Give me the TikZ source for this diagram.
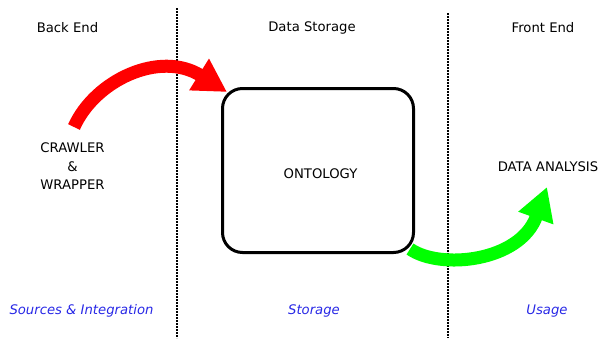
\documentclass[tikz,border=0pt]{standalone}
\usepackage{fontspec}
\setmainfont{DejaVu Sans}
\usetikzlibrary{arrows.meta}
\definecolor{capblue}{RGB}{40,40,230}
\definecolor{arrowred}{RGB}{255,0,0}
\definecolor{arrowgreen}{RGB}{0,255,0}
\begin{document}
\begin{tikzpicture}[x=1pt,y=-1pt,
  lbl/.style={font=\fontsize{13.2}{18.5}\selectfont, inner sep=0pt},
  captiontext/.style={lbl, text=capblue, font=\fontsize{13.2}{18.5}\selectfont\itshape},
  divider/.style={line width=2pt, dash pattern=on 1.8pt off 1.2pt},
  bigarrow/.style={line width=13pt, -{Triangle[length=33pt,width=35pt]}}]
\useasboundingbox (0,0) rectangle (603,338);
% column dividers
\coordinate (d1t) at (177,8);  \coordinate (d1b) at (177,338);
\coordinate (d2t) at (448,13); \coordinate (d2b) at (448,338);
\draw[divider] (d1t) -- (d1b);
\draw[divider] (d2t) -- (d2b);
% column headings
\node[lbl] (h1) at (67.5,28) {Back End};
\node[lbl] (h2) at (312,28) {Data Storage};
\node[lbl] (h3) at (543,28) {Front End};
% central store
\node[draw, line width=3pt, rounded corners=20pt, minimum width=191pt, minimum height=164pt] (onto) at (318,170.5) {};
\node[lbl] (ontotext) at (320.5,174) {ONTOLOGY};
% source and usage
\node[lbl, align=center] (src) at (72.5,166.5) {CRAWLER\\\&\\WRAPPER};
\node[lbl] (ana) at (548,166.5) {DATA ANALYSIS};
% flow arrows
\coordinate (rtail) at (74,127);
\coordinate (rtip) at (227,92);
\draw[bigarrow, arrowred] (rtail) .. controls (95,80) and (160,50) .. (rtip);
\coordinate (gtail) at (410,249);
\coordinate (gtip) at (547,187);
\draw[bigarrow, arrowgreen] (gtail) .. controls (440,270) and (520,262) .. (gtip);
% captions
\node[captiontext] (c1) at (81.5,311) {Sources \& Integration};
\node[captiontext] (c2) at (314,311) {Storage};
\node[captiontext] (c3) at (547,311) {Usage};
\end{tikzpicture}
\end{document}
